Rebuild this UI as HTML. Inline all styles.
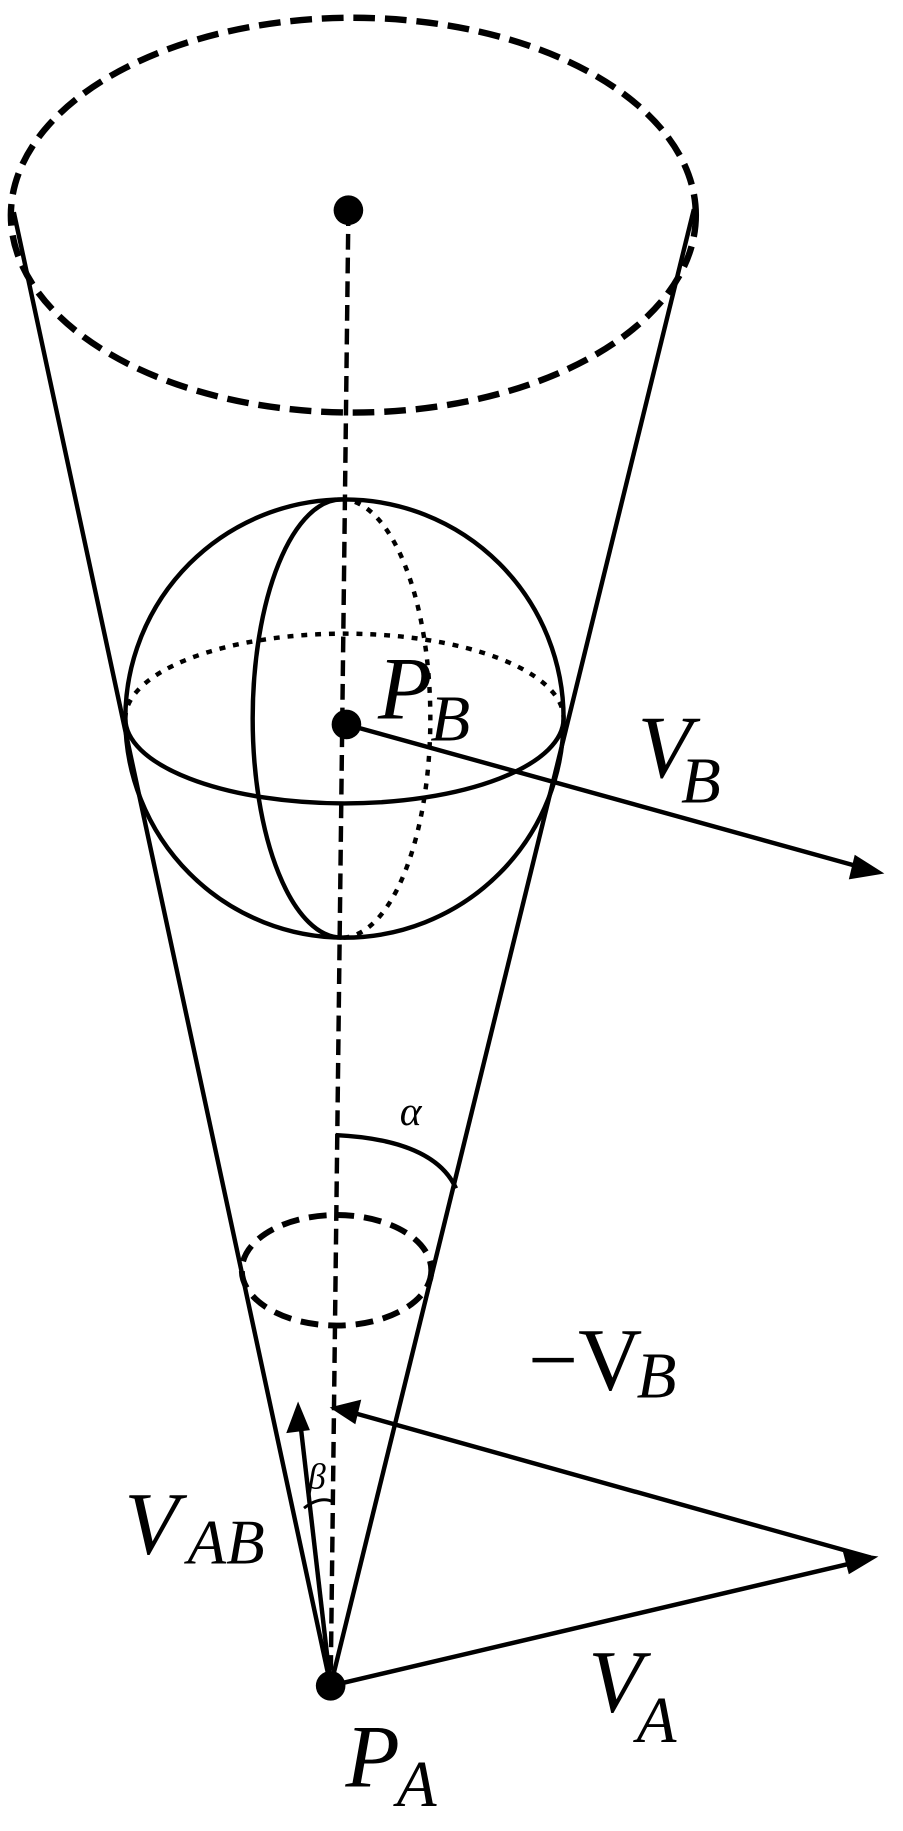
<!DOCTYPE html>
<html><head><meta charset="utf-8"><style>
html,body{margin:0;padding:0;background:#fff}
svg{display:block}
text{font-family:"Liberation Serif",serif;font-style:italic;fill:#000}
</style></head><body>
<svg width="903" height="1831" viewBox="0 0 903 1831" xmlns="http://www.w3.org/2000/svg">
<g transform="scale(0.987)">
<g fill="none" stroke="#000">
<ellipse cx="358" cy="218" rx="347" ry="200" stroke-width="6.5" stroke-dasharray="22,10"/>
<line x1="14" y1="215" x2="335" y2="1708" stroke-width="4.5"/>
<line x1="703" y1="212" x2="335" y2="1708" stroke-width="4.5"/>
<line x1="353" y1="213" x2="335" y2="1708" stroke-width="4.5" stroke-dasharray="16,8"/>
<circle cx="349" cy="728" r="222" stroke-width="4.5"/>
<path d="M127 728 A222 86 0 0 0 571 728" stroke-width="4.5"/>
<path d="M127 728 A222 86 0 0 1 571 728" stroke-width="4.5" stroke-dasharray="6,8"/>
<path d="M346 506 A90 222 0 0 0 346 950" stroke-width="4.5"/>
<path d="M346 506 A90 222 0 0 1 346 950" stroke-width="4.5" stroke-dasharray="6,8"/>
<path d="M340 1150 Q440 1155 462 1204" stroke-width="4.5"/>
<ellipse cx="341" cy="1287" rx="96" ry="56" stroke-width="6" stroke-dasharray="18,10"/>
<path d="M308 1528 Q325 1515 338 1522" stroke-width="3"/>
<line x1="351" y1="734" x2="870" y2="878" stroke-width="4.5"/>
<line x1="335" y1="1708" x2="862" y2="1584" stroke-width="4.5"/>
<line x1="882" y1="1578" x2="360" y2="1432" stroke-width="4.5"/>
<line x1="335" y1="1708" x2="305" y2="1448" stroke-width="4.5"/>
</g>
<g fill="#000">
<circle cx="353" cy="213" r="15"/>
<circle cx="351" cy="734" r="15"/>
<circle cx="335" cy="1708" r="15"/>
<polygon points="896,885 860,891 866,866"/>
<polygon points="890,1577 860,1595 854,1572"/>
<polygon points="334,1426 366,1418 360,1443"/>
<polygon points="302,1420 290,1452 314,1449"/>
</g>
<text x="383" y="728" font-size="90">P</text>
<text x="436" y="750" font-size="66">B</text>
<text x="646" y="787" font-size="90">V</text>
<text x="690" y="813" font-size="66">B</text>
<text x="405" y="1140" font-size="42">α</text>
<text x="535" y="1408" font-size="90" style="font-style:normal">−V</text>
<text x="645" y="1416" font-size="66">B</text>
<text x="312" y="1508" font-size="36">β</text>
<text x="126" y="1574" font-size="90">V</text>
<text x="190" y="1584" font-size="64">AB</text>
<text x="596" y="1734" font-size="90">V</text>
<text x="645" y="1765" font-size="66">A</text>
<text x="350" y="1810" font-size="90">P</text>
<text x="402" y="1830" font-size="66">A</text>
</g>
</svg>
</body></html>
